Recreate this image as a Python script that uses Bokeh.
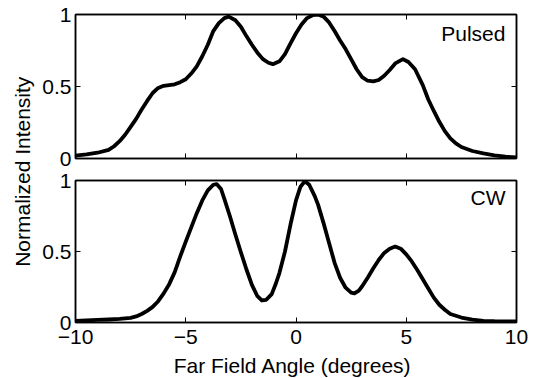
import math
from bokeh.plotting import figure
from bokeh.models import Range1d, LinearAxis, FixedTicker, NumeralTickFormatter, Label, ColumnDataSource
from bokeh.layouts import row, column
from bokeh.embed import file_html
from bokeh.resources import INLINE

# ---- data ----
pulsed_x = [-10, -9.5, -9, -8.5, -8.25, -8, -7.75, -7.5, -7.25, -7, -6.75, -6.5, -6.25, -6, -5.75,
            -5.5, -5.25, -5, -4.75, -4.5, -4.25, -4, -3.75, -3.5, -3.25, -3.05, -2.75, -2.5, -2.25,
            -2, -1.75, -1.5, -1.25, -1.05, -0.75, -0.5, -0.25, 0, 0.25, 0.5, 0.75, 1.0, 1.25, 1.5,
            1.75, 2, 2.25, 2.5, 2.75, 3, 3.25, 3.5, 3.75, 4, 4.25, 4.5, 4.85, 5.1, 5.4, 5.75, 6,
            6.25, 6.5, 6.75, 7, 7.25, 7.5, 8, 8.5, 9, 9.5, 10]
pulsed_y = [0.02, 0.028, 0.04, 0.06, 0.085, 0.12, 0.165, 0.22, 0.275, 0.34, 0.40, 0.455, 0.49, 0.505, 0.51,
            0.515, 0.53, 0.55, 0.59, 0.64, 0.71, 0.79, 0.885, 0.94, 0.975, 0.985, 0.96, 0.915, 0.85,
            0.79, 0.735, 0.69, 0.665, 0.655, 0.675, 0.725, 0.80, 0.87, 0.93, 0.975, 0.995, 1.0, 0.985, 0.945,
            0.885, 0.82, 0.76, 0.69, 0.62, 0.565, 0.54, 0.535, 0.545, 0.575, 0.615, 0.66, 0.69, 0.67, 0.62, 0.51, 0.41,
            0.33, 0.255, 0.19, 0.14, 0.105, 0.08, 0.052, 0.035, 0.022, 0.013, 0.008]

cw_x = [-10, -9.5, -9, -8.5, -8, -7.5, -7.25, -7, -6.75, -6.5, -6.25, -6, -5.75, -5.5, -5.25, -5,
        -4.75, -4.5, -4.25, -4, -3.75, -3.6, -3.4, -3.25, -3, -2.75, -2.5, -2.25, -2, -1.75, -1.55,
        -1.35, -1.1, -0.9, -0.75, -0.5, -0.25, 0, 0.2, 0.4, 0.6, 0.85, 1.0, 1.25, 1.5, 1.75, 2.0,
        2.25, 2.5, 2.65, 2.85, 3.0, 3.25, 3.5, 3.75, 4.0, 4.25, 4.5, 4.75, 5.0, 5.25, 5.5, 5.75,
        6.0, 6.25, 6.5, 6.75, 7.0, 7.5, 8.0, 8.5, 9, 9.5, 10]
cw_y = [0.012, 0.015, 0.018, 0.021, 0.025, 0.033, 0.043, 0.06, 0.082, 0.11, 0.15, 0.205, 0.27, 0.355, 0.465, 0.57,
        0.67, 0.77, 0.86, 0.93, 0.97, 0.975, 0.94, 0.87, 0.75, 0.62, 0.495, 0.375, 0.265, 0.185, 0.155,
        0.16, 0.2, 0.28, 0.35, 0.5, 0.69, 0.86, 0.955, 0.995, 0.97, 0.89, 0.83, 0.70, 0.56, 0.42, 0.315,
        0.245, 0.21, 0.205, 0.225, 0.255, 0.315, 0.38, 0.44, 0.49, 0.52, 0.535, 0.52, 0.48, 0.43, 0.37, 0.305,
        0.24, 0.175, 0.125, 0.09, 0.06, 0.035, 0.02, 0.012, 0.009, 0.008, 0.008]

x_ticks = [-10, -5, 0, 5, 10]
y_ticks = [0, 0.5, 1]
panel_labels = ["Pulsed", "CW"]
x_title = "Far Field Angle (degrees)"
y_title = "Normalized Intensity"

FONT = "Liberation Sans"
FS = "21px"


def make_axis(ticks, show_labels, fmt=None, standoff=4):
    ax = LinearAxis(ticker=FixedTicker(ticks=ticks))
    ax.axis_line_color = "black"
    ax.axis_line_width = 1.5
    ax.major_tick_in = 5
    ax.major_tick_out = 0
    ax.major_tick_line_color = "black"
    ax.major_tick_line_width = 1
    ax.minor_tick_line_color = None
    ax.major_label_text_font = FONT
    if show_labels:
        ax.major_label_text_color = "black"
        ax.major_label_text_font_size = FS
        ax.major_label_standoff = standoff
    else:
        ax.major_label_text_color = None
        ax.major_label_text_font_size = "1px"
        ax.major_label_standoff = 0
    if fmt is not None:
        ax.formatter = fmt
    return ax


def make_panel(xs, ys, label, label_y, bottom):
    p = figure(width=500, height=181 if bottom else 169,
               x_range=Range1d(-10, 10), y_range=Range1d(0, 1),
               x_axis_type=None, y_axis_type=None,
               output_backend="svg", toolbar_location=None,
               min_border_left=38, min_border_right=21,
               min_border_top=11 if bottom else 14,
               min_border_bottom=28 if bottom else 11)
    p.outline_line_color = "black"
    p.outline_line_width = 1.5
    p.background_fill_color = "white"
    p.border_fill_color = "white"
    yfmt = NumeralTickFormatter(format="0.[0]")
    p.add_layout(make_axis(y_ticks, True, yfmt), "left")
    p.add_layout(make_axis(y_ticks, False), "right")
    p.add_layout(make_axis(x_ticks, False), "above")
    p.add_layout(make_axis(x_ticks, bottom, standoff=7), "below")
    src = ColumnDataSource(dict(x=xs, y=ys))
    p.line("x", "y", source=src, line_color="black", line_width=3.8, line_join="round", line_cap="round")
    p.add_layout(Label(x=9.5, y=label_y, text=label, text_align="right", text_baseline="alphabetic",
                       text_font=FONT, text_font_size=FS, text_color="black"))
    return p


p1 = make_panel(pulsed_x, pulsed_y, panel_labels[0], 0.866, False)
p2 = make_panel(cw_x, cw_y, panel_labels[1], 0.88, True)

# x-axis title strip below the lower panel
xt = figure(width=500, height=27, x_range=Range1d(-10, 10), y_range=Range1d(0, 27),
            x_axis_type=None, y_axis_type=None, output_backend="svg", toolbar_location=None,
            min_border_left=38, min_border_right=21, min_border_top=0, min_border_bottom=0,
            outline_line_color=None)
xt.add_layout(Label(x=-0.15, y=0.5, text=x_title, text_align="center", text_baseline="bottom",
                    text_font=FONT, text_font_size=FS, text_color="black"))

# y-axis title strip left of both panels
lab = figure(width=37, height=377, x_range=Range1d(0, 37), y_range=Range1d(0, 377),
             x_axis_type=None, y_axis_type=None, output_backend="svg", toolbar_location=None,
             min_border=0, outline_line_color=None)
lab.add_layout(Label(x=22, y=205.75, text=y_title, angle=math.pi / 2, text_align="center",
                     text_baseline="middle", text_font=FONT, text_font_size=FS, text_color="black"))

layout = row(lab, column(p1, p2, xt))
open("out.html", "w").write(file_html(layout, INLINE))
